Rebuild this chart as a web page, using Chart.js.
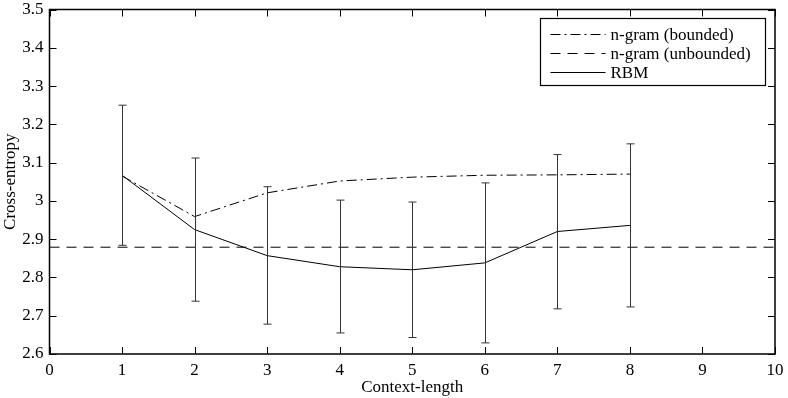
<!DOCTYPE html>
<html>
<head>
<meta charset="utf-8">
<script src="https://cdn.jsdelivr.net/npm/chart.js@4"></script>
<style>
  html, body { margin: 0; padding: 0; background: #fff; }
  #wrap { width: 788px; height: 398px; }
</style>
</head>
<body>
<div id="wrap"><canvas id="entropyChart"></canvas></div>
<script>
const contextLengths = [1, 2, 3, 4, 5, 6, 7, 8];
const rbmMean = [3.067, 2.925, 2.857, 2.828, 2.820, 2.838, 2.920, 2.936];
const rbmUpper = [3.250, 3.112, 3.037, 3.002, 2.997, 3.047, 3.121, 3.149];
const rbmLower = [2.884, 2.738, 2.678, 2.655, 2.643, 2.629, 2.718, 2.723];
const ngramBounded = [3.065, 2.959, 3.021, 3.052, 3.062, 3.067, 3.068, 3.070];
const ngramUnboundedX = [0, 10];
const ngramUnbounded = [2.879, 2.879];
const xTicks = [0, 1, 2, 3, 4, 5, 6, 7, 8, 9, 10];
const yTicks = [2.6, 2.7, 2.8, 2.9, 3.0, 3.1, 3.2, 3.3, 3.4, 3.5];

const FONT = 'Liberation Serif, "Times New Roman", serif';
const fontSpec = { family: FONT, size: 17 };

function toPoints(xs, ys) {
    return xs.map((x, i) => ({ x: x, y: ys[i] }));
}

// box, inward ticks, error bars and legend
const decorations = {
    id: 'decorations',
    afterDatasetsDraw(chart) {
        const ctx = chart.ctx;
        const area = chart.chartArea;
        const xs = chart.scales.x;
        const ys = chart.scales.y;
        const tick = 7;

        ctx.save();
        ctx.lineWidth = 1;
        ctx.setLineDash([]);

        // error bars
        ctx.strokeStyle = '#333';
        contextLengths.forEach((c, i) => {
            const px = Math.round(xs.getPixelForValue(c)) + 0.5;
            const top = ys.getPixelForValue(rbmUpper[i]);
            const bot = ys.getPixelForValue(rbmLower[i]);
            ctx.beginPath();
            ctx.moveTo(px, top); ctx.lineTo(px, bot);
            ctx.moveTo(px - 4, top); ctx.lineTo(px + 4, top);
            ctx.moveTo(px - 4, bot); ctx.lineTo(px + 4, bot);
            ctx.stroke();
        });

        // axis box
        ctx.strokeStyle = '#000';
        ctx.lineWidth = 1.5;
        ctx.strokeRect(area.left, area.top, area.right - area.left, area.bottom - area.top);

        // inward ticks
        ctx.lineWidth = 1;
        ctx.beginPath();
        xTicks.forEach(v => {
            const px = Math.round(xs.getPixelForValue(v)) + 0.5;
            ctx.moveTo(px, area.bottom); ctx.lineTo(px, area.bottom - tick);
            ctx.moveTo(px, area.top); ctx.lineTo(px, area.top + tick);
        });
        yTicks.forEach(v => {
            const py = Math.round(ys.getPixelForValue(v)) + 0.5;
            ctx.moveTo(area.left, py); ctx.lineTo(area.left + tick, py);
            ctx.moveTo(area.right, py); ctx.lineTo(area.right - tick, py);
        });
        ctx.stroke();

        // legend
        const lx = 540.5, ly = 18.5, lw = 225, lh = 67;
        ctx.fillStyle = '#fff';
        ctx.fillRect(lx, ly, lw, lh);
        ctx.lineWidth = 1.2;
        ctx.strokeRect(lx, ly, lw, lh);
        ctx.font = '17px ' + FONT;
        ctx.textBaseline = 'middle';
        ctx.fillStyle = '#000';
        ctx.lineWidth = 1;
        [0, 1, 2].forEach(r => {
            const ds = chart.data.datasets[r];
            const y = Math.round(ly + 15 + r * 19) + 0.5;
            ctx.setLineDash(ds.borderDash || []);
            ctx.beginPath();
            ctx.moveTo(lx + 10, y); ctx.lineTo(lx + 65, y);
            ctx.stroke();
            ctx.setLineDash([]);
            ctx.fillText(ds.label, lx + 70, y + 1);
        });
        ctx.restore();
    }
};

function createChart() {
    const ctx = document.getElementById('entropyChart').getContext('2d');
    new Chart(ctx, {
        type: 'line',
        data: {
            datasets: [{
                label: 'n-gram (bounded)',
                data: toPoints(contextLengths, ngramBounded),
                borderColor: '#000',
                borderWidth: 1,
                borderDash: [10, 4, 2, 4],
                pointRadius: 0,
                fill: false,
                tension: 0
            }, {
                label: 'n-gram (unbounded)',
                data: toPoints(ngramUnboundedX, ngramUnbounded),
                borderColor: '#000',
                borderWidth: 1,
                borderDash: [10, 7],
                pointRadius: 0,
                fill: false
            }, {
                label: 'RBM',
                data: toPoints(contextLengths, rbmMean),
                borderColor: '#000',
                borderWidth: 1,
                pointRadius: 0,
                fill: false,
                tension: 0
            }]
        },
        options: {
            responsive: true,
            maintainAspectRatio: false,
            animation: false,
            layout: { padding: { left: 0, right: 13, top: 9.5, bottom: 0 } },
            plugins: {
                legend: { display: false },
                tooltip: { enabled: false }
            },
            scales: {
                x: {
                    type: 'linear',
                    min: 0,
                    max: 10,
                    afterBuildTicks: s => { s.ticks = xTicks.map(v => ({ value: v })); },
                    afterFit: s => { s.height = 44; s.paddingLeft = 0; s.paddingRight = 0; },
                    grid: { display: false, drawTicks: false },
                    border: { display: false },
                    ticks: { color: '#000', font: fontSpec, padding: 6, maxRotation: 0 },
                    title: { display: true, text: 'Context-length', color: '#000', font: fontSpec, padding: { top: 3, bottom: 0 } }
                },
                y: {
                    type: 'linear',
                    min: 2.6,
                    max: 3.5,
                    afterBuildTicks: s => { s.ticks = yTicks.map(v => ({ value: v })); },
                    afterFit: s => { s.width = 49.5; s.paddingTop = 0; s.paddingBottom = 0; },
                    grid: { display: false, drawTicks: false },
                    border: { display: false },
                    ticks: {
                        color: '#000', font: fontSpec, padding: 6,
                        callback: v => (Math.round(v * 10) / 10).toString()
                    },
                    title: { display: true, text: 'Cross-entropy', color: '#000', font: fontSpec, padding: { top: 0, bottom: 0 } }
                }
            }
        },
        plugins: [decorations]
    });
}

window.onload = createChart;
</script>
</body>
</html>
